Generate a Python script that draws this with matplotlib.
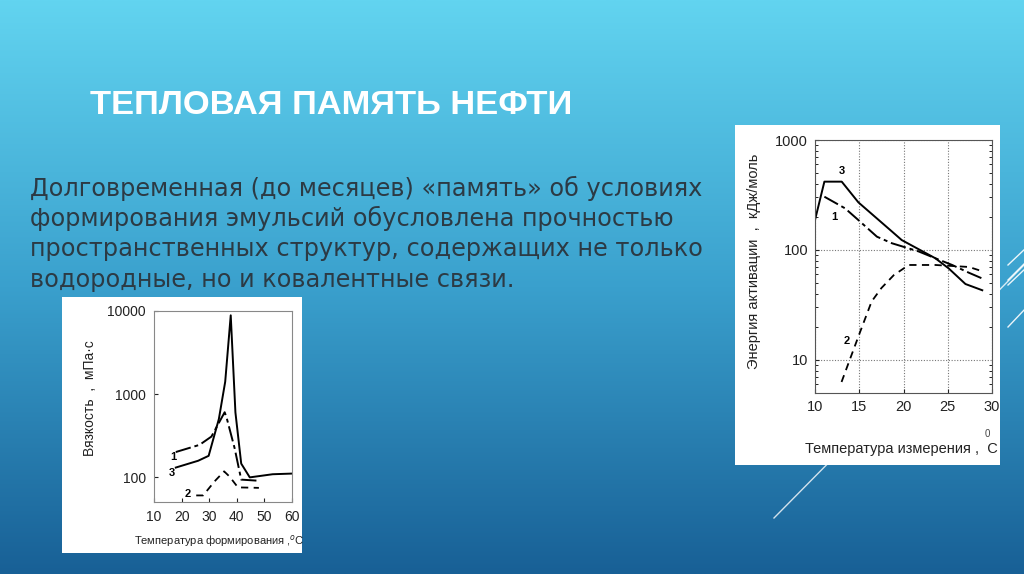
import matplotlib
matplotlib.use("Agg")
import matplotlib.pyplot as plt
import numpy as np

# --- data: viscosity vs formation temperature (left chart)
t_form_1 = [17.9, 26.5, 30.8, 35.6, 36.3, 39.2, 41.6, 48.3]
visc_1 = [200, 244, 307, 603, 520, 223, 93, 90]
t_form_2 = [25.3, 27.8, 32.0, 35.4, 37.4, 40.4, 48.0]
visc_2 = [60, 60, 89, 117, 101, 75, 74]
t_form_3 = [17.9, 26.0, 29.8, 33.5, 35.8, 37.8, 39.5, 41.6, 44.7, 53.0, 60.0]
visc_3 = [130, 157, 180, 500, 1406, 8870, 600, 145, 99, 108, 110]

# --- data: activation energy vs measuring temperature (right chart)
t_meas_1 = [11.06, 13.4, 14.9, 17.0, 18.7, 21.7, 23.6, 25.5, 27.4, 28.9]
energy_1 = [305, 239, 187, 132, 115, 97, 84, 73, 62, 55]
t_meas_2 = [13.0, 14.0, 15.1, 16.4, 17.5, 18.9, 20.6, 23.6, 27.4, 28.9]
energy_2 = [6.3, 10.4, 18, 34, 45, 59, 73, 73, 70, 64]
t_meas_3 = [10.0, 11.06, 13.02, 14.9, 18.7, 19.8, 23.6, 25.1, 27.0, 28.9]
energy_3 = [187, 418, 418, 271, 147, 123, 84, 68, 49, 43]

title = "ТЕПЛОВАЯ ПАМЯТЬ НЕФТИ"
body = ["Долговременная (до месяцев) «память» об условиях",
        "формирования эмульсий обусловлена прочностью",
        "пространственных структур, содержащих не только",
        "водородные, но и ковалентные связи."]

W, H = 1024, 574
fig = plt.figure(figsize=(W / 100, H / 100), dpi=100)


def box(x0, y0, x1, y1):
    # pixel box (top-left origin) -> figure fraction rect
    return [x0 / W, 1 - y1 / H, (x1 - x0) / W, (y1 - y0) / H]


def ftext(x, y, s, **kw):
    # text on top of everything, pixel coords from top-left
    return fig.text(x / W, 1 - y / H, s, **kw)


# background gradient
bg = fig.add_axes([0, 0, 1, 1])
top = np.array([98, 212, 240]) / 255
mid = np.array([58, 160, 205]) / 255
bot = np.array([24, 96, 150]) / 255
t = np.linspace(0, 1, 300)[:, None]
grad = np.where(t < 0.5, top + (mid - top) * (t / 0.5), mid + (bot - mid) * ((t - 0.5) / 0.5))
bg.imshow(grad[:, None, :].repeat(2, axis=1), aspect="auto", extent=[0, W, H, 0])
bg.set_xlim(0, W)
bg.set_ylim(H, 0)
bg.axis("off")

# decorative thin lines
for (x0, y0, x1, y1, a) in [(774, 518, 1024, 265, 0.8), (1008, 265, 1026, 248, 0.9),
                            (1008, 280, 1026, 262, 0.9), (1008, 285, 1026, 268, 0.9),
                            (1008, 327, 1026, 308, 0.9)]:
    bg.plot([x0, x1], [y0, y1], color="white", lw=1.0, alpha=a)

bg.text(90, 105, title, color="white", fontsize=24.8, fontweight="bold",
        family="Liberation Sans", va="center", ha="left")
for i, line in enumerate(body):
    bg.text(30, 188 + i * 30.5, line, color="#2c3a44", fontsize=17.3,
            family="DejaVu Sans", va="center", ha="left")

# white panels
for b in [box(62, 297, 302, 553), box(735, 125, 1000, 465)]:
    p = fig.add_axes(b)
    p.set_facecolor("white")
    p.set_xticks([])
    p.set_yticks([])
    for s in p.spines.values():
        s.set_visible(False)

lab_font = "Liberation Sans"

# left chart
ax1 = fig.add_axes(box(154, 311, 292, 502))
ax1.plot(t_form_3, visc_3, color="black", lw=1.4)
ax1.plot(t_form_1, visc_1, color="black", lw=1.4, dashes=(8, 2, 2, 2))
ax1.plot(t_form_2, visc_2, color="black", lw=1.3, dashes=(4, 3))
ax1.set_yscale("log")
ax1.set_xlim(10, 60)
ax1.set_ylim(50, 10000)
ax1.set_xticks([10, 20, 30, 40, 50, 60])
ax1.set_yticks([100, 1000, 10000])
ax1.set_yticklabels(["100", "1000", "10000"])
ax1.minorticks_off()
ax1.tick_params(direction="in", length=3, labelsize=10, colors="#222", pad=6)
for lbl in ax1.get_xticklabels() + ax1.get_yticklabels():
    lbl.set_family(lab_font)
for s in ax1.spines.values():
    s.set_color("#888")
    s.set_linewidth(0.8)
ax1.text(18, 200, "1", fontsize=8, fontweight="bold", family=lab_font, ha="right", va="top")
ax1.text(17.5, 128, "3", fontsize=8, fontweight="bold", family=lab_font, ha="right", va="top")
ax1.text(23.5, 62, "2", fontsize=8, fontweight="bold", family=lab_font, ha="right", va="center")
ax1.set_ylabel("Вязкость  ,  мПа·с", family=lab_font, fontsize=10, color="#222")
ax1.yaxis.set_label_coords(-0.413, 0.545)
ftext(219, 541, "Температура формирования ,$^{o}$C", family=lab_font, fontsize=8,
      color="#222", ha="center", va="center")

# right chart
ax2 = fig.add_axes(box(815, 140, 992, 393))
ax2.plot(t_meas_3, energy_3, color="black", lw=1.4)
ax2.plot(t_meas_1, energy_1, color="black", lw=1.4, dashes=(8, 2, 2, 2))
ax2.plot(t_meas_2, energy_2, color="black", lw=1.3, dashes=(4, 3))
ax2.set_yscale("log")
ax2.set_xlim(10, 30)
ax2.set_ylim(5, 1000)
ax2.set_xticks([10, 15, 20, 25, 30])
ax2.set_yticks([10, 100, 1000])
ax2.set_yticklabels(["10", "100", "1000"])
ax2.tick_params(which="major", direction="in", length=3, labelsize=10.5, colors="#222", pad=5)
ax2.tick_params(which="minor", direction="in", length=2, right=True, labelleft=False)
ax2.grid(True, which="major", color="#777", lw=0.8, ls=(0, (1, 1.5)))
for lbl in ax2.get_xticklabels() + ax2.get_yticklabels():
    lbl.set_family(lab_font)
for s in ax2.spines.values():
    s.set_color("#555")
    s.set_linewidth(0.8)
ax2.text(13.0, 470, "3", fontsize=8, fontweight="bold", family=lab_font, ha="center", va="bottom")
ax2.text(12.2, 200, "1", fontsize=8, fontweight="bold", family=lab_font, ha="center", va="center")
ax2.text(13.6, 15, "2", fontsize=8, fontweight="bold", family=lab_font, ha="center", va="center")
ax2.set_ylabel("Энергия активации  ,  кДж/моль", family=lab_font, fontsize=10.5, color="#222")
ax2.yaxis.set_label_coords(-0.305, 0.52)
ftext(998, 449, "Температура измерения ,  С", family=lab_font, fontsize=10.5,
      color="#222", ha="right", va="center")
ftext(987, 434, "0", family=lab_font, fontsize=7, color="#444", ha="center", va="center")

fig.savefig("out.png", dpi=100)
